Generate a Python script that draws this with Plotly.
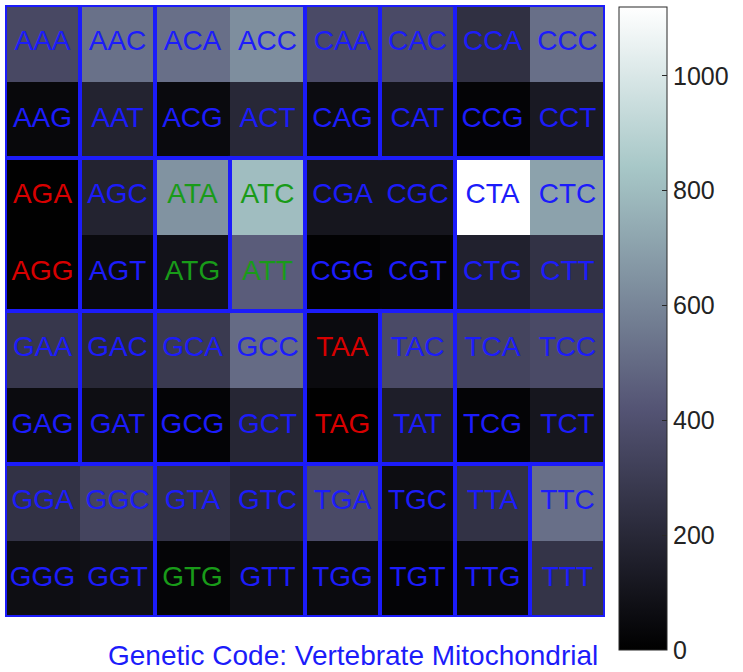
import plotly.graph_objects as go

W, H = 743, 672

# Codon grid (row 0 = top), read left->right
codons = [
    ["AAA", "AAC", "ACA", "ACC", "CAA", "CAC", "CCA", "CCC"],
    ["AAG", "AAT", "ACG", "ACT", "CAG", "CAT", "CCG", "CCT"],
    ["AGA", "AGC", "ATA", "ATC", "CGA", "CGC", "CTA", "CTC"],
    ["AGG", "AGT", "ATG", "ATT", "CGG", "CGT", "CTG", "CTT"],
    ["GAA", "GAC", "GCA", "GCC", "TAA", "TAC", "TCA", "TCC"],
    ["GAG", "GAT", "GCG", "GCT", "TAG", "TAT", "TCG", "TCT"],
    ["GGA", "GGC", "GTA", "GTC", "TGA", "TGC", "TTA", "TTC"],
    ["GGG", "GGT", "GTG", "GTT", "TGG", "TGT", "TTG", "TTT"],
]

counts = [
    [360, 525, 520, 630, 370, 370, 240, 520],
    [40, 175, 50, 200, 60, 100, 20, 125],
    [5, 175, 650, 805, 110, 110, 1120, 705],
    [3, 50, 90, 450, 10, 25, 165, 250],
    [275, 200, 290, 505, 55, 370, 340, 370],
    [55, 70, 20, 190, 3, 150, 20, 110],
    [250, 340, 250, 200, 370, 65, 250, 520],
    [70, 80, 25, 70, 55, 20, 45, 260],
]

# Vertebrate mitochondrial code (amino acid per codon)
amino = {
    "AAA": "K", "AAG": "K", "AAC": "N", "AAT": "N",
    "ACA": "T", "ACC": "T", "ACG": "T", "ACT": "T",
    "CAA": "Q", "CAG": "Q", "CAC": "H", "CAT": "H",
    "CCA": "P", "CCC": "P", "CCG": "P", "CCT": "P",
    "AGA": "*", "AGG": "*", "AGC": "S1", "AGT": "S1",
    "ATA": "M", "ATG": "M", "ATC": "I", "ATT": "I",
    "CGA": "R", "CGC": "R", "CGG": "R", "CGT": "R",
    "CTA": "L1", "CTC": "L1", "CTG": "L1", "CTT": "L1",
    "GAA": "E", "GAG": "E", "GAC": "D", "GAT": "D",
    "GCA": "A", "GCC": "A", "GCG": "A", "GCT": "A",
    "TAA": "*2", "TAG": "*2", "TAC": "Y", "TAT": "Y",
    "TCA": "S2", "TCC": "S2", "TCG": "S2", "TCT": "S2",
    "GGA": "G", "GGC": "G", "GGG": "G", "GGT": "G",
    "GTA": "V", "GTC": "V", "GTG": "V", "GTT": "V",
    "TGA": "W", "TGG": "W", "TGC": "C", "TGT": "C",
    "TTA": "L2", "TTG": "L2", "TTC": "F", "TTT": "F",
}
stop_codons = ["AGA", "AGG", "TAA", "TAG"]
start_codons = ["ATA", "ATC", "ATG", "ATT", "GTG"]

title_text = "Genetic Code: Vertebrate Mitochondrial"
colorbar_ticks = [0, 200, 400, 600, 800, 1000]

BLUE = "rgb(28,28,250)"
RED = "rgb(215,0,0)"
GREEN = "rgb(25,155,25)"

# MATLAB 'bone' colormap (piecewise linear)
bone = [
    [0.0, "rgb(0,0,0)"],
    [0.375, "rgb(84,84,116)"],
    [0.75, "rgb(167,199,199)"],
    [1.0, "rgb(255,255,255)"],
]

nrows, ncols = len(codons), len(codons[0])
zmax = max(max(r) for r in counts)

fig = go.Figure()
fig.add_trace(go.Heatmap(
    z=counts, x=list(range(ncols)), y=list(range(nrows)),
    colorscale=bone, zmin=0, zmax=zmax,
    hoverinfo="skip",
    colorbar=dict(
        x=619 / W, xanchor="left", xpad=0,
        y=1 - 7 / H, yanchor="top", ypad=0,
        lenmode="pixels", len=643,
        thicknessmode="pixels", thickness=48,
        outlinewidth=1, outlinecolor="rgb(40,40,40)",
        tickvals=colorbar_ticks,
        ticks="inside", ticklen=5, tickcolor="rgb(40,40,40)",
        tickfont=dict(family="Liberation Sans, Arial", size=25, color="rgb(35,35,35)"),
    ),
))

tx, ty, tt, tc = [], [], [], []
for r in range(nrows):
    for c in range(ncols):
        cod = codons[r][c]
        tx.append(c)
        ty.append(r)
        tt.append(cod)
        tc.append(RED if cod in stop_codons else GREEN if cod in start_codons else BLUE)
fig.add_trace(go.Scatter(
    x=tx, y=ty, text=tt, mode="text", hoverinfo="skip", showlegend=False,
    textfont=dict(family="Liberation Sans, Arial", size=28, color=tc),
))

# Blue boundaries between amino-acid groups
shapes = []
LW = 4
ext = 0.027
line = dict(color=BLUE, width=LW)
for r in range(nrows):
    for c in range(ncols - 1):
        if amino[codons[r][c]] != amino[codons[r][c + 1]]:
            shapes.append(dict(type="line", xref="x", yref="y",
                               x0=c + 0.5, x1=c + 0.5, y0=r - 0.5 - ext, y1=r + 0.5 + ext, line=line))
for r in range(nrows - 1):
    for c in range(ncols):
        if amino[codons[r][c]] != amino[codons[r + 1][c]]:
            shapes.append(dict(type="line", xref="x", yref="y",
                               x0=c - 0.5 - ext, x1=c + 0.5 + ext, y0=r + 0.5, y1=r + 0.5, line=line))
shapes.append(dict(type="rect", xref="x", yref="y", x0=-0.5, x1=ncols - 0.5,
                   y0=-0.5, y1=nrows - 0.5, line=line))

fig.update_layout(
    width=W, height=H,
    margin=dict(l=0, r=0, t=0, b=0, autoexpand=False),
    paper_bgcolor="white", plot_bgcolor="white",
    showlegend=False,
    shapes=shapes,
    xaxis=dict(domain=[5 / W, 605 / W], range=[-0.5, ncols - 0.5],
               showgrid=False, zeroline=False, showticklabels=False, ticks=""),
    yaxis=dict(domain=[(H - 617) / H, (H - 5) / H], range=[nrows - 0.5, -0.5],
               showgrid=False, zeroline=False, showticklabels=False, ticks=""),
    annotations=[dict(
        text=title_text, xref="paper", yref="paper",
        x=353 / W, y=(H - 655) / H, xanchor="center", yanchor="middle",
        showarrow=False,
        font=dict(family="Liberation Sans, Arial", size=28, color=BLUE),
    )],
)

fig.write_html("out.html", config={"displayModeBar": False},
               post_script="document.body.style.margin='0px';")
